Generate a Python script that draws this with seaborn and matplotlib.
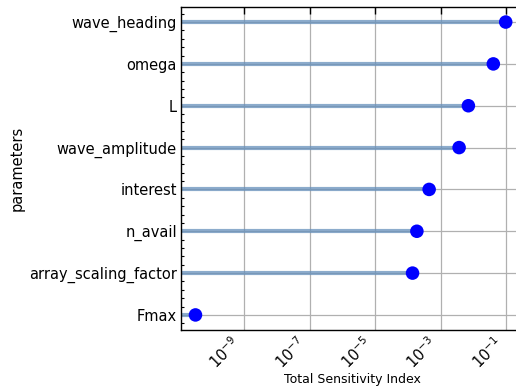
import numpy as np
import pandas as pd
import matplotlib
matplotlib.use("Agg")
import matplotlib.pyplot as plt
import seaborn as sns
from matplotlib.ticker import AutoMinorLocator, NullLocator

params = ["wave_heading", "omega", "L", "wave_amplitude", "interest",
          "n_avail", "array_scaling_factor", "Fmax"]
total_si = [0.098, 0.041, 0.0071, 0.0037, 4.5e-4, 1.9e-4, 1.4e-4, 3.3e-11]
xticks = [1e-9, 1e-7, 1e-5, 1e-3, 1e-1]

df = pd.DataFrame({"param": params, "ST": total_si, "pos": np.arange(len(params))})

sns.set_style("white", rc={"text.color": "black", "axes.labelcolor": "black",
                           "xtick.color": "black", "ytick.color": "black",
                           "axes.edgecolor": "black"})
plt.rcParams["font.family"] = ["DejaVu Sans"]

fig = plt.figure(figsize=(5.16, 3.88), dpi=100)
W = 530 - 181
ax = fig.add_axes([181/516, 1-330/388, W/516, (330-7)/388])

xmin = 10 ** (-1 - (506 - 181) / 32.75)
xmax = 10 ** (-1 + (530 - 506) / 32.75)

ax.set_xscale("log")
ax.grid(True, color="#b0b0b0", linewidth=0.9, zorder=0)
ax.set_axisbelow(True)
ax.hlines(df["pos"], xmin, df["ST"], color="#6690bc", alpha=0.75,
          linewidth=3, zorder=2)
sns.scatterplot(data=df, x="ST", y="pos", color="blue", s=95, edgecolor="none",
                zorder=3, ax=ax, legend=False)

ax.set_xlim(xmin, xmax)
ax.set_ylim(len(params) - 1 + 0.36, -0.36)
ax.set_yticks(df["pos"])
ax.set_yticklabels(params, fontsize=10.5)
ax.yaxis.set_minor_locator(AutoMinorLocator(5))
ax.set_xticks(xticks)
ax.xaxis.set_minor_locator(NullLocator())
plt.setp(ax.get_xticklabels(), rotation=45, ha="right", fontsize=10.5)

ax.tick_params(axis="both", which="major", direction="in", length=5, width=1,
               top=True, right=True, pad=3)
ax.tick_params(axis="y", which="minor", direction="in", length=2.5, width=0.8,
               left=True, right=True)
for s in ax.spines.values():
    s.set_color("black")
    s.set_linewidth(1)

ax.set_xlabel("Total Sensitivity Index", fontsize=9)
ax.xaxis.set_label_coords(0.5 - (181 + W/2 - 352) / W, -(379 - 330) / 323)
ax.xaxis.label.set_va("center")
ax.set_ylabel("parameters", fontsize=10.5)
ax.yaxis.set_label_coords((25 - 181) / W, 0.5)

fig.savefig("out.png", dpi=100)
